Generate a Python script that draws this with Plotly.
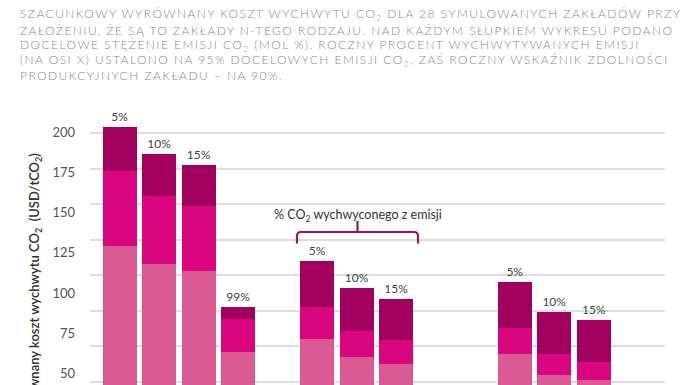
import plotly.graph_objects as go

# ---------------- data ----------------
slot_order = ["G1 5%", "G1 10%", "G1 15%", "G1 99%", "odstęp 1",
              "G2 5%", "G2 10%", "G2 15%", "G2 99%", "odstęp 2",
              "G3 5%", "G3 10%", "G3 15%", "G3 99%"]
bar_categories = ["G1 5%", "G1 10%", "G1 15%", "G1 99%",
                  "G2 5%", "G2 10%", "G2 15%",
                  "G3 5%", "G3 10%", "G3 15%"]
bar_labels = ["5%", "10%", "15%", "99%", "5%", "10%", "15%", "5%", "10%", "15%"]
bottom_segment = [129.3, 118.1, 113.7, 63.2, 71.3, 60.0, 55.7, 62.0, 49.1, 46.0]
middle_segment = [46.6, 42.3, 40.5, 21.0, 19.9, 16.4, 15.1, 16.1, 13.0, 11.3]
top_segment = [27.6, 25.9, 25.3, 7.3, 28.8, 26.6, 25.7, 29.0, 26.3, 25.8]
y_tick_values = [50, 75, 100, 125, 150, 175, 200]
grid_values = [25, 50, 75, 100, 125, 150, 175, 200]

title_lines = [
    "SZACUNKOWY WYRÓWNANY KOSZT WYCHWYTU CO<sub>2</sub> DLA 28 SYMULOWANYCH ZAKŁADÓW PRZY",
    "ZAŁOŻENIU, ŻE SĄ TO ZAKŁADY N-TEGO RODZAJU. NAD KAŻDYM SŁUPKIEM WYKRESU PODANO",
    "DOCELOWE STĘŻENIE EMISJI CO<sub>2</sub> (MOL %). ROCZNY PROCENT WYCHWYTYWANYCH EMISJI",
    "(NA OSI X) USTALONO NA 95% DOCELOWYCH EMISJI CO<sub>2</sub>, ZAŚ ROCZNY WSKAŹNIK ZDOLNOŚCI",
    "PRODUKCYJNYCH ZAKŁADU – NA 90%.",
]
y_title = "Wyrównany koszt wychwytu CO<sub>2</sub>  (USD/tCO<sub>2</sub>)"
bracket_label = "% CO<sub>2</sub> wychwyconego z emisji"

# ---------------- layout helpers ----------------
W, H = 696, 385
ML, MR, MT, MB = 90, 31, 100, 0
PW, PH = W - ML - MR, H - MT - MB


def px(x):
    return (x - ML) / PW


def py(y):
    return (H - MB - y) / PH


C_BOTTOM = "#DA5A94"
C_MIDDLE = "#DA067F"
C_TOP = "#A1005E"
FONT = "Lato"

fig = go.Figure()
fig.add_trace(go.Bar(x=bar_categories, y=bottom_segment, marker=dict(color=C_BOTTOM, line=dict(width=0)),
                     hoverinfo="skip"))
fig.add_trace(go.Bar(x=bar_categories, y=middle_segment, marker=dict(color=C_MIDDLE, line=dict(width=0)),
                     hoverinfo="skip"))
fig.add_trace(go.Bar(x=bar_categories, y=top_segment, marker=dict(color=C_TOP, line=dict(width=0)),
                     text=bar_labels, textposition="outside", constraintext="none", cliponaxis=False,
                     textfont=dict(family=FONT, size=12, color="#444444"), hoverinfo="skip"))
# helper trace so the gridline axis is drawn
fig.add_trace(go.Scatter(x=[], y=[], yaxis="y2", showlegend=False, hoverinfo="skip"))

fig.update_layout(
    width=W, height=H,
    margin=dict(l=ML, r=MR, t=MT, b=MB),
    paper_bgcolor="white", plot_bgcolor="white",
    barmode="stack", bargap=0.14, showlegend=False,
    xaxis=dict(type="category", categoryorder="array", categoryarray=slot_order,
               range=[-0.752, 13.80], showticklabels=False, showgrid=False,
               zeroline=False, showline=False, ticks="", automargin=False, fixedrange=True),
    yaxis=dict(range=[42.85, 220.09], tickvals=y_tick_values, showgrid=False, zeroline=False,
               showline=False, ticks="", ticklabelstandoff=14, automargin=False,
               tickfont=dict(family=FONT, size=13, color="#555555")),
    yaxis2=dict(overlaying="y", anchor="x", side="left", range=[22.8, 223.2], tickvals=grid_values,
                showticklabels=False, showgrid=True, gridcolor="#dedede", gridwidth=1.6,
                zeroline=False, showline=False, ticks="", automargin=False),
)

annotations = []
title_y = [15, 30.5, 45.7, 60.8, 76]
for line, yy in zip(title_lines, title_y):
    annotations.append(dict(
        text='<span style="letter-spacing:1.45px">' + line + '</span>',
        xref="paper", yref="paper", x=px(18), y=py(yy), xanchor="left", yanchor="middle",
        showarrow=False, font=dict(family=FONT, size=12, color="#8a8a8a", weight=300)))

annotations.append(dict(
    text=y_title, textangle=-90, xref="paper", yref="paper", x=px(35), y=py(151),
    xanchor="center", yanchor="top", showarrow=False,
    font=dict(family=FONT, size=13, color="#333333", weight=600)))

annotations.append(dict(
    text=bracket_label, xref="paper", yref="paper", x=px(358), y=py(215),
    xanchor="center", yanchor="middle", showarrow=False,
    font=dict(family=FONT, size=12.5, color="#333333")))

fig.update_layout(annotations=annotations)

# bracket
xl, xr, xm = 297, 418, 357.5
yb, yh, yt, r = 243.5, 232, 221, 4
path = (f"M {px(xl)},{py(yb)} L {px(xl)},{py(yh + r)} Q {px(xl)},{py(yh)} {px(xl + r)},{py(yh)} "
        f"L {px(xr - r)},{py(yh)} Q {px(xr)},{py(yh)} {px(xr)},{py(yh + r)} L {px(xr)},{py(yb)} "
        f"M {px(xm)},{py(yh)} L {px(xm)},{py(yt)}")
fig.add_shape(type="path", path=path, xref="paper", yref="paper",
              line=dict(color="#9E1460", width=2.2))

fig.write_html("out.html", config={"displayModeBar": False},
               post_script="document.body.style.margin='0';")
